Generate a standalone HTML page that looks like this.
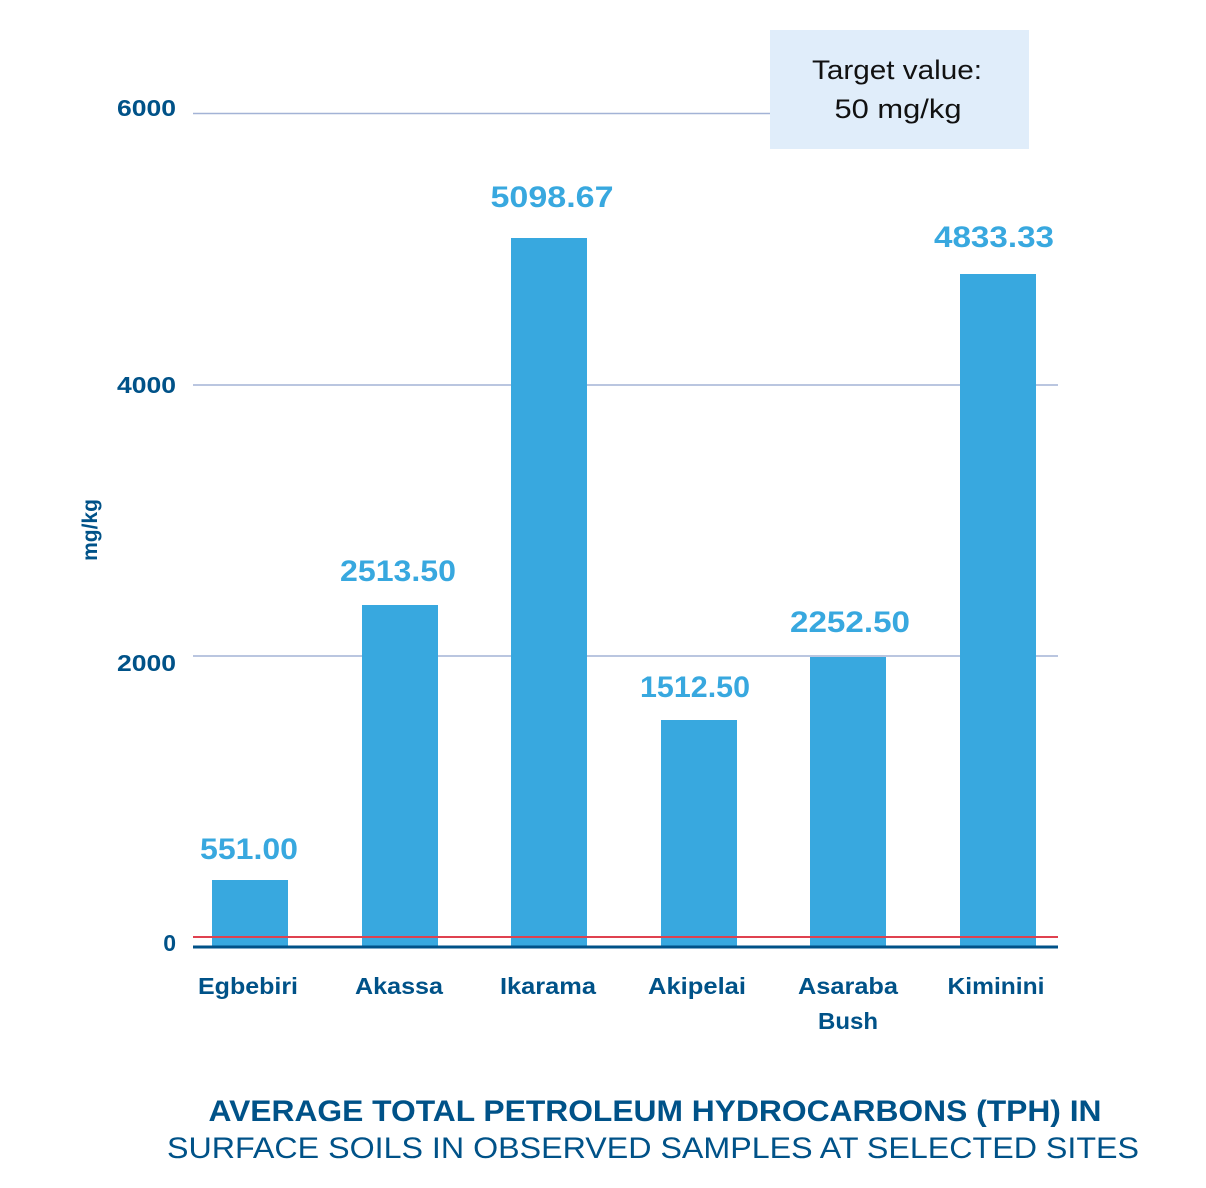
<!DOCTYPE html>
<html><head><meta charset="utf-8"><style>
html,body{margin:0;padding:0;background:#fff}
svg{display:block}
text{font-family:"Liberation Sans",sans-serif}
</style></head><body>
<svg width="1206" height="1188" viewBox="0 0 1206 1188" xmlns="http://www.w3.org/2000/svg">
<g stroke="#a3b3d6" stroke-width="1.5">
<line x1="193" y1="113.5" x2="770" y2="113.5"/>
<line x1="193" y1="385" x2="1058" y2="385"/>
<line x1="193" y1="656" x2="1058" y2="656"/>
</g>
<rect x="770" y="30" width="259" height="119" fill="#e0edfa"/>
<text x="897" y="79" font-size="27" fill="#111" text-anchor="middle" textLength="170" lengthAdjust="spacingAndGlyphs">Target value:</text>
<text x="898" y="118" font-size="27" fill="#111" text-anchor="middle" textLength="127" lengthAdjust="spacingAndGlyphs">50 mg/kg</text>
<g fill="#005288" font-weight="bold" font-size="23" text-anchor="end">
<text x="176" y="116" textLength="59" lengthAdjust="spacingAndGlyphs">6000</text>
<text x="176" y="393" textLength="59" lengthAdjust="spacingAndGlyphs">4000</text>
<text x="176" y="671" textLength="59" lengthAdjust="spacingAndGlyphs">2000</text>
<text x="176" y="951">0</text>
</g>
<text transform="translate(97,530) rotate(-90)" font-size="21" font-weight="bold" fill="#005288" text-anchor="middle">mg/kg</text>
<g fill="#38a8df">
<rect x="212" y="880" width="76" height="67"/>
<rect x="362" y="605" width="76" height="342"/>
<rect x="511" y="238" width="76" height="709"/>
<rect x="661" y="720" width="76" height="227"/>
<rect x="810" y="657" width="76" height="290"/>
<rect x="960" y="274" width="76" height="673"/>
</g>
<g fill="#38a8df" font-weight="bold" font-size="30" text-anchor="middle" lengthAdjust="spacingAndGlyphs">
<text x="249" y="859" textLength="98" lengthAdjust="spacingAndGlyphs">551.00</text>
<text x="398" y="581" textLength="116" lengthAdjust="spacingAndGlyphs">2513.50</text>
<text x="552" y="207" textLength="123" lengthAdjust="spacingAndGlyphs">5098.67</text>
<text x="695" y="697" textLength="110" lengthAdjust="spacingAndGlyphs">1512.50</text>
<text x="850" y="632" textLength="120" lengthAdjust="spacingAndGlyphs">2252.50</text>
<text x="994" y="247" textLength="120" lengthAdjust="spacingAndGlyphs">4833.33</text>
</g>
<line x1="193" y1="937" x2="1058" y2="937" stroke="#e0414f" stroke-width="2"/>
<line x1="193" y1="947" x2="1058" y2="947" stroke="#005288" stroke-width="3"/>
<g fill="#005288" font-weight="bold" font-size="23" text-anchor="middle">
<text x="248" y="994" textLength="100" lengthAdjust="spacingAndGlyphs">Egbebiri</text>
<text x="399" y="994" textLength="88" lengthAdjust="spacingAndGlyphs">Akassa</text>
<text x="548" y="994" textLength="96" lengthAdjust="spacingAndGlyphs">Ikarama</text>
<text x="697" y="994" textLength="98" lengthAdjust="spacingAndGlyphs">Akipelai</text>
<text x="848" y="994" textLength="100" lengthAdjust="spacingAndGlyphs">Asaraba</text>
<text x="848" y="1029" textLength="60" lengthAdjust="spacingAndGlyphs">Bush</text>
<text x="996" y="994" textLength="97" lengthAdjust="spacingAndGlyphs">Kiminini</text>
</g>
<text x="655" y="1121" font-size="30" font-weight="bold" fill="#005288" text-anchor="middle" textLength="893" lengthAdjust="spacingAndGlyphs">AVERAGE TOTAL PETROLEUM HYDROCARBONS (TPH) IN</text>
<text x="653" y="1158" font-size="30" fill="#005288" text-anchor="middle" textLength="972" lengthAdjust="spacingAndGlyphs">SURFACE SOILS IN OBSERVED SAMPLES AT SELECTED SITES</text>
</svg>
</body></html>
